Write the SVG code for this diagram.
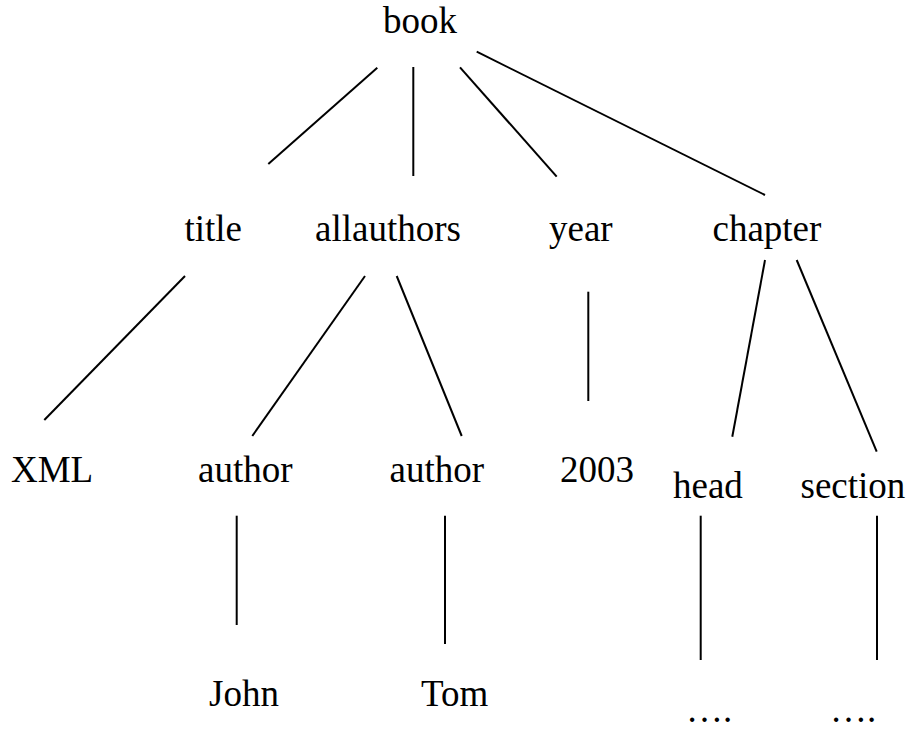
<svg xmlns="http://www.w3.org/2000/svg" width="922" height="736" viewBox="0 0 922 736">
  <style>
    .lbl { font-family: "Liberation Serif", "Times New Roman", serif; font-size: 37px; fill: #000; }
    .edge { stroke: #000; stroke-width: 2; fill: none; stroke-linecap: butt; }
  </style>
  <rect width="922" height="736" fill="#fff"/>

  <g id="connectors">
    <!-- book to its children -->
    <line class="edge" x1="377.3" y1="67.7" x2="268.3" y2="164"/>
    <line class="edge" x1="413.3" y1="67" x2="413.3" y2="176"/>
    <line class="edge" x1="460" y1="67.3" x2="556.7" y2="176.7"/>
    <line class="edge" x1="476.7" y1="51.7" x2="765" y2="195"/>
    <!-- second level -->
    <line class="edge" x1="185" y1="276" x2="44.3" y2="420"/>
    <line class="edge" x1="365" y1="276" x2="252.3" y2="436"/>
    <line class="edge" x1="396.7" y1="276" x2="461.7" y2="436"/>
    <line class="edge" x1="588.3" y1="291.7" x2="588.3" y2="401"/>
    <line class="edge" x1="765" y1="260" x2="732.3" y2="436.7"/>
    <line class="edge" x1="796.7" y1="260" x2="876.7" y2="451.7"/>
    <!-- third level -->
    <line class="edge" x1="236.7" y1="515.7" x2="236.7" y2="625"/>
    <line class="edge" x1="445" y1="515.7" x2="445" y2="644"/>
    <line class="edge" x1="700.7" y1="515.7" x2="700.7" y2="660"/>
    <line class="edge" x1="877" y1="515.7" x2="877" y2="660"/>
  </g>

  <g id="node-book"><text class="lbl" x="383" y="33">book</text></g>
  <g id="node-title"><text class="lbl" x="184.5" y="241">title</text></g>
  <g id="node-allauthors"><text class="lbl" x="315" y="241">allauthors</text></g>
  <g id="node-year"><text class="lbl" x="549" y="241">year</text></g>
  <g id="node-chapter"><text class="lbl" x="712.5" y="241">chapter</text></g>
  <g id="node-xml"><text class="lbl" x="11" y="482">XML</text></g>
  <g id="node-author1"><text class="lbl" x="198" y="482">author</text></g>
  <g id="node-author2"><text class="lbl" x="389.5" y="482">author</text></g>
  <g id="node-2003"><text class="lbl" x="560" y="482">2003</text></g>
  <g id="node-head"><text class="lbl" x="673" y="498">head</text></g>
  <g id="node-section"><text class="lbl" x="800.5" y="498">section</text></g>
  <g id="node-john"><text class="lbl" x="209" y="706">John</text></g>
  <g id="node-tom"><text class="lbl" x="421" y="706">Tom</text></g>
  <g id="node-head-more"><text class="lbl" x="686" y="722">….</text></g>
  <g id="node-section-more"><text class="lbl" x="830" y="722">….</text></g>
</svg>
